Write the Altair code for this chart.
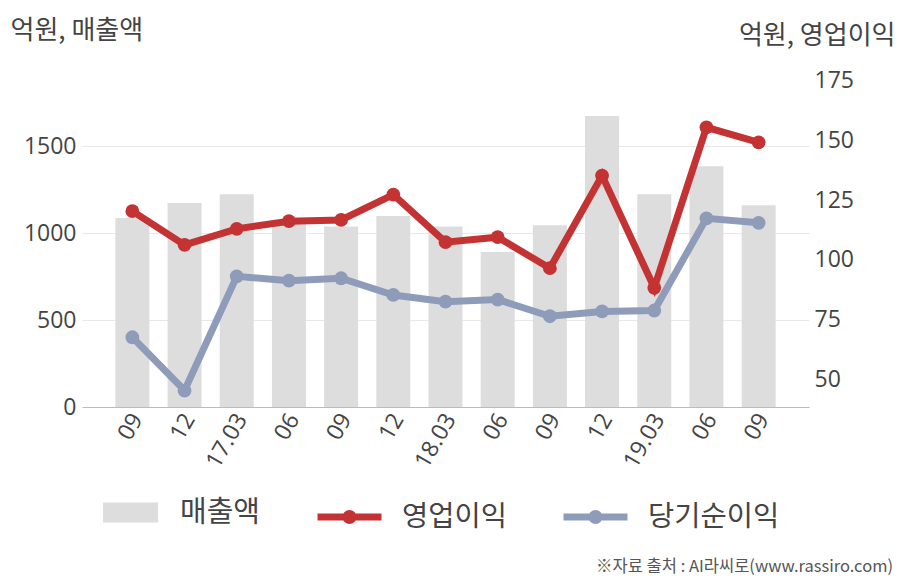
import json
import altair as alt
import pandas as pd

# ---- data ----
periods = ["16.09", "16.12", "17.03", "17.06", "17.09", "17.12", "18.03",
           "18.06", "18.09", "18.12", "19.03", "19.06", "19.09"]
tick_labels = ["09", "12", "17.03", "06", "09", "12", "18.03",
               "06", "09", "12", "19.03", "06", "09"]
sales = [1086, 1172, 1222, 1065, 1038, 1098, 1038, 891, 1044, 1672, 1222, 1383, 1159]
op_profit = [120.4, 106.3, 113.0, 116.2, 116.7, 127.3, 107.4, 109.5, 96.5, 135.3, 88.3, 155.5, 149.2]
net_profit = [67.6, 45.3, 93.1, 91.3, 92.3, 85.3, 82.5, 83.4, 76.4, 78.4, 78.8, 117.4, 115.5]

left_ticks = [0, 500, 1000, 1500]
right_ticks = [50, 75, 100, 125, 150, 175]
series_names = ["매출액", "영업이익", "당기순이익"]
source_text = "※자료 출처 : AI라씨로(www.rassiro.com)"

# ---- tables ----
bar_df = pd.DataFrame({"period": periods, "value": sales, "series": series_names[0]})
line_df = pd.concat([
    pd.DataFrame({"period": periods, "value": op_profit, "series": series_names[1]}),
    pd.DataFrame({"period": periods, "value": net_profit, "series": series_names[2]}),
], ignore_index=True)

KR = "Noto Sans CJK KR"
NUM = "Open Sans"
TXT = "#444444"
GRAY = "#dddddd"
RED = "#c43333"
BLUE = "#8e9cba"

label_expr = f"{json.dumps(tick_labels)}[indexof({json.dumps(periods)}, datum.value)]"

x_enc = alt.X(
    "period:N", sort=periods, title=None,
    scale=alt.Scale(paddingInner=0.35, paddingOuter=0.64),
    axis=alt.Axis(labelExpr=label_expr, labelAngle=-60, labelAlign="right",
                  labelBaseline="middle", labelFont=NUM, labelFontSize=23,
                  labelColor=TXT, labelPadding=8, labelOffset=5, ticks=False,
                  domain=True, domainColor="#bbbbbb", domainWidth=1, grid=False),
)

bars = alt.Chart(bar_df).mark_bar(size=34).encode(
    x=x_enc,
    y=alt.Y("value:Q", scale=alt.Scale(domain=[0, 2000], nice=False),
            axis=alt.Axis(orient="left", values=left_ticks, format="d", grid=True,
                          gridColor="#e8e8e8", gridWidth=1, domain=False,
                          ticks=False, labelFont=NUM, labelFontSize=23,
                          labelColor=TXT, labelPadding=6,
                          title="억원, 매출액", titleAngle=0, titleAlign="left",
                          titleBaseline="middle", titleX=-72, titleY=-29,
                          titleFont=KR, titleFontSize=26,
                          titleFontWeight="normal", titleColor=TXT)),
    fill=alt.Fill("series:N",
                  scale=alt.Scale(domain=[series_names[0]], range=[GRAY]),
                  legend=alt.Legend(title=None, orient="none", legendX=21,
                                    legendY=426,
                                    symbolType="M-1,-0.36H1V0.36H-1Z",
                                    symbolSize=3025, symbolStrokeWidth=0,
                                    labelFont=KR, labelFontSize=29,
                                    labelColor=TXT, labelOffset=22)),
)

y_right = alt.Y("value:Q", scale=alt.Scale(domain=[38.4, 184.1], nice=False, zero=False),
                axis=alt.Axis(orient="right", values=right_ticks, grid=False,
                              domain=False, ticks=False, labelFont=NUM,
                              labelFontSize=23, labelColor=TXT, labelPadding=5,
                              title="억원, 영업이익", titleAngle=0,
                              titleAlign="right", titleBaseline="middle",
                              titleX=86, titleY=-24, titleFont=KR,
                              titleFontSize=26, titleFontWeight="normal",
                              titleColor=TXT))

color_scale = alt.Scale(domain=series_names[1:], range=[RED, BLUE])
line_symbol = ("M-1,0H1M0.11,0A0.11,0.11 0 1,1 -0.11,0"
               "A0.11,0.11 0 1,1 0.11,0")

lines = alt.Chart(line_df).mark_line(strokeWidth=7).encode(
    x=alt.X("period:N", sort=periods),
    y=y_right,
    color=alt.Color("series:N", scale=color_scale,
                    legend=alt.Legend(title=None, orient="none",
                                      direction="horizontal", legendX=232,
                                      legendY=422, symbolType=line_symbol,
                                      symbolSize=4096, symbolStrokeWidth=7,
                                      labelFont=KR, labelFontSize=28.5,
                                      labelColor=TXT, labelOffset=17,
                                      columnPadding=42)),
    detail="series:N",
)

points = alt.Chart(line_df).mark_point(filled=True, size=190, opacity=1).encode(
    x=alt.X("period:N", sort=periods),
    y=alt.Y("value:Q"),
    color=alt.Color("series:N", scale=color_scale, legend=None),
)

source = alt.Chart(pd.DataFrame({"t": [source_text]})).mark_text(
    align="right", baseline="middle", font=KR, fontSize=16.5, color="#555555"
).encode(text="t:N", x=alt.value(811), y=alt.value(508))

chart = alt.layer(
    bars,
    alt.layer(lines, points),
    source,
).resolve_scale(y="independent", color="independent").properties(
    width=727, height=348,
    autosize=alt.AutoSizeParams(type="none"),
    padding={"left": 82, "top": 59, "right": 99, "bottom": 173},
    background="white",
).configure_view(stroke=None)

chart.save("out.html", embed_options={"renderer": "svg", "actions": False})
